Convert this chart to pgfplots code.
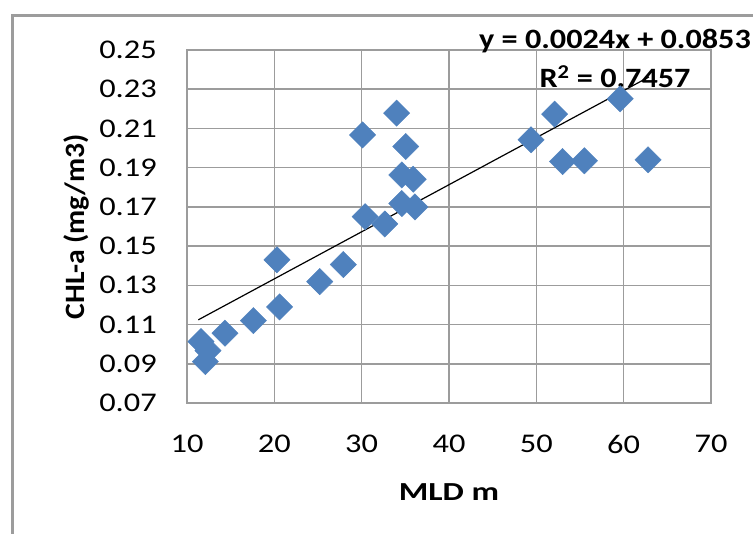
\documentclass[border=0pt]{standalone}
\usepackage{fontspec}
\setmainfont{Carlito}
\usepackage{graphicx}
\usepackage{pgfplots}
\pgfplotsset{compat=1.18}
\definecolor{exblue}{HTML}{4F81BD}
\definecolor{gridgray}{HTML}{9C9C9C}
\begin{document}
\begin{tikzpicture}[x=1pt,y=1pt]
\useasboundingbox (0,0) rectangle (753,534);
\draw[line width=3pt, color=gridgray] (12,-5) -- (12,518) -- (760,518);
\begin{axis}[
  at={(187pt,131pt)}, anchor=south west,
  scale only axis, width=524pt, height=353pt,
  xmin=10, xmax=70, ymin=0.07, ymax=0.25,
  xtick={10,20,...,70},
  ytick={0.07,0.09,0.11,0.13,0.15,0.17,0.19,0.21,0.23,0.25},
  yticklabels={0.07,0.09,0.11,0.13,0.15,0.17,0.19,0.21,0.23,0.25},
  xticklabels={10,20,30,40,50,60,70},
  major tick length=0pt,
  grid=major,
  major grid style={draw=gridgray, line width=1.6pt},
  axis line style={draw=gridgray, line width=1.6pt},
  tick label style={font=\fontsize{27}{30}\selectfont, xscale=1.2, inner sep=0pt},
  yticklabel style={anchor=east, xshift=-25pt},
  xticklabel style={anchor=north, yshift=-32pt},
  xlabel={\scalebox{1.3}[1]{\textbf{MLD m}}},
  ylabel={\scalebox{1.06}[1]{\textbf{CHL-a (mg/m3)}}},
  xlabel style={font=\fontsize{26}{30}\selectfont, at={(axis description cs:0.5,-0.252)}, anchor=center},
  ylabel style={font=\fontsize{28}{32}\selectfont, at={(axis description cs:-0.2118,0.5)}, anchor=center},
  clip=false,
]
\addplot[only marks, mark=square*, mark size=9.3pt,
  mark options={fill=exblue, draw=exblue, rotate=45}] coordinates {
  (11.6,0.1013) (12.4,0.0967) (12.1,0.0911) (14.35,0.1056) (17.6,0.1120)
  (20.3,0.1430) (20.6,0.1190) (25.2,0.1319) (27.9,0.1406) (30.4,0.1650)
  (32.65,0.1613) (34.6,0.1717) (36.1,0.1700) (34.6,0.1863) (35.9,0.1841)
  (34.0,0.2178) (30.1,0.2067) (35.05,0.2008) (49.4,0.2042) (52.1,0.2173)
  (59.6,0.2251) (53.0,0.1931) (55.5,0.1935) (62.8,0.1940)
};
\addplot[black, line width=1.2pt] coordinates {(11.3,0.11242) (62.9,0.23626)};
\node[font=\bfseries\fontsize{28}{32}\selectfont, xscale=1.15, anchor=center]
  at (axis description cs:0.8168,1.0255) {y = 0.0024x + 0.0853};
\node[font=\bfseries\fontsize{28}{32}\selectfont, xscale=1.15, anchor=center]
  at (axis description cs:0.8168,0.9235) {R\textsuperscript{2} = 0.7457};
\end{axis}
\end{tikzpicture}
\end{document}
